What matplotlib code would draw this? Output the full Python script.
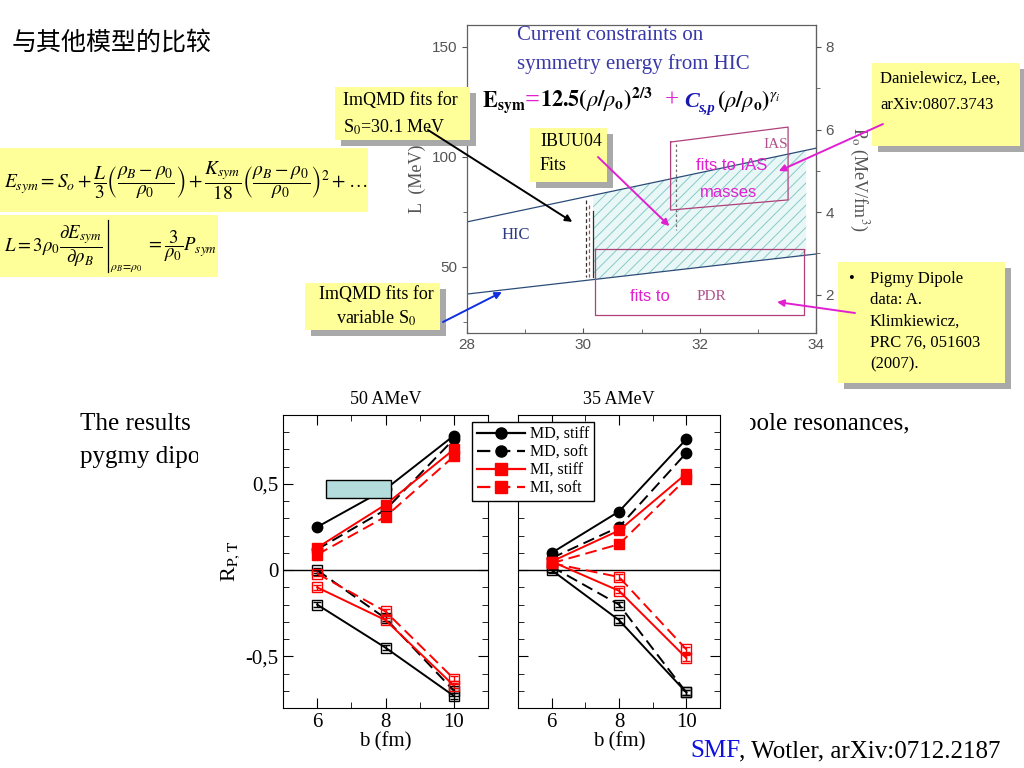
import matplotlib
matplotlib.use('Agg')
import matplotlib.pyplot as plt
from matplotlib.patches import Rectangle, ConnectionPatch
from matplotlib.lines import Line2D
from matplotlib.ticker import MultipleLocator, FuncFormatter

plt.rcParams['font.family'] = ['Liberation Serif', 'DejaVu Sans']
plt.rcParams['mathtext.fontset'] = 'stix'
plt.rcParams['hatch.linewidth'] = 0.7

W, H = 1024, 768

# ---- top panel: constraints on L vs S0
s0_edges = [28, 34]
hic_upper = [70.5, 104.0]
hic_lower = [37.7, 55.9]
ibuu_s0 = [30.17, 33.83]
ias_s0 = [31.5, 33.52, 33.52, 31.5, 31.5]
ias_L = [106.8, 113.6, 80.5, 75.9, 106.8]
pdr_s0 = [30.2, 33.8, 33.8, 30.2, 30.2]
pdr_L = [58.2, 58.2, 28.2, 28.2, 58.2]
rho0 = 0.16

# ---- bottom panels: R_P,T vs impact parameter
b = [6, 8, 10]
series_labels = ['MD, stiff', 'MD, soft', 'MI, stiff', 'MI, soft']
series_colors = ['black', 'black', 'red', 'red']
series_ls = ['-', '--', '-', '--']
series_mk = ['o', 'o', 's', 's']
err = 0.015

r50_proj = [[0.25, 0.47, 0.78],
            [0.12, 0.35, 0.76],
            [0.13, 0.38, 0.70],
            [0.09, 0.31, 0.66]]
r50_targ = [[-0.20, -0.45, -0.73],
            [0.00, -0.28, -0.70],
            [-0.10, -0.29, -0.67],
            [-0.02, -0.24, -0.63]]
r35_proj = [[0.10, 0.34, 0.76],
            [0.07, 0.25, 0.68],
            [0.05, 0.23, 0.56],
            [0.04, 0.15, 0.53]]
r35_targ = [[0.00, -0.29, -0.71],
            [0.02, -0.20, -0.71],
            [0.05, -0.12, -0.51],
            [0.04, -0.04, -0.46]]

YELLOW = '#ffff99'
MAG = '#e020d0'

fig = plt.figure(figsize=(W / 100, H / 100), dpi=100)


def ftext(x, y, s, **kw):
    return fig.text(x / W, 1 - y / H, s, **kw)


def box(x0, y0, x1, y1, shadow=6, z=6):
    if shadow:
        fig.patches.append(Rectangle(((x0 + shadow) / W, 1 - (y1 + shadow) / H),
                                     (x1 - x0) / W, (y1 - y0) / H,
                                     transform=fig.transFigure, fc='#a9a9a9',
                                     ec='none', zorder=z - 0.1))
    fig.patches.append(Rectangle((x0 / W, 1 - y1 / H), (x1 - x0) / W, (y1 - y0) / H,
                                 transform=fig.transFigure, fc=YELLOW, ec='none', zorder=z))


# ---------------- slide texts ----------------
ftext(12, 43, '与其他模型的比较', fontsize=18, va='center',
      family=['Noto Sans CJK SC', 'DejaVu Sans'])
ftext(80, 430, 'The results', fontsize=18, zorder=3)
ftext(80, 463, 'pygmy dipole', fontsize=18, zorder=3)
ftext(744, 430, 'pole resonances,', fontsize=18, zorder=3)
ftext(690, 757, 'SMF', fontsize=18, color='#1010e0', zorder=11)
ftext(739, 757, ', Wotler, arXiv:0712.2187', fontsize=18, zorder=11)

# white cover under the lower figure
fig.patches.append(Rectangle((198 / W, 1 - 765 / H), 552 / W, 382 / H,
                             transform=fig.transFigure, fc='white', ec='none', zorder=4))

# equation boxes
box(0, 148, 368, 212, shadow=0)
box(0, 215, 218, 277, shadow=0)
ftext(4, 181, r'$E_{sym}=S_o+\dfrac{L}{3}\left(\dfrac{\rho_B-\rho_0}{\rho_0}\right)'
      r'+\dfrac{K_{sym}}{18}\left(\dfrac{\rho_B-\rho_0}{\rho_0}\right)^2+\ldots$',
      fontsize=14, va='center', zorder=7)
ftext(4, 246, r'$L=3\rho_0\dfrac{\partial E_{sym}}{\partial\rho_B}$',
      fontsize=13.5, va='center', zorder=7)
fig.add_artist(Line2D([108 / W, 108 / W], [1 - 220 / H, 1 - 272 / H], color='black',
                      lw=0.9, zorder=7))
ftext(110, 268, r'$\rho_B\!=\!\rho_0$', fontsize=8.5, va='center', zorder=7)
ftext(146, 246, r'$=\dfrac{3}{\rho_0}P_{sym}$', fontsize=13.5, va='center', zorder=7)

# ---------------- top panel ----------------
ax = fig.add_axes([467 / W, 1 - 333 / H, 349 / W, 308 / H])
ax.set_xlim(28, 34)
ax.set_ylim(20, 160)
ax.plot(s0_edges, hic_upper, color='#2c4c78', lw=0.9)
ax.plot(s0_edges, hic_lower, color='#2c4c78', lw=0.9)
frac_u = [(s - s0_edges[0]) / (s0_edges[1] - s0_edges[0]) for s in ibuu_s0]
up_ib = [hic_upper[0] + f * (hic_upper[1] - hic_upper[0]) for f in frac_u]
lo_ib = [hic_lower[0] + f * (hic_lower[1] - hic_lower[0]) for f in frac_u]
ax.fill_between(ibuu_s0, lo_ib, up_ib, facecolor='#eaf7f7', edgecolor='#86caca',
                hatch='///', lw=0)
ax.plot([30.05, 30.05], [80.5, 45.5], color='#303030', ls='--', lw=0.9, dashes=(3, 2))
ax.plot([30.10, 30.10], [78, 45.5], color='#b05050', ls='--', lw=0.9, dashes=(3, 2))
ax.plot([30.17, 30.17], [75.6, 45.5], color='#303030', lw=0.9)
ax.plot([31.6, 31.6], [106, 66.8], color='#707070', ls='--', lw=0.9, dashes=(2, 2))
ax.plot(ias_s0, ias_L, color='#b0407a', lw=0.9)
ax.plot(pdr_s0, pdr_L, color='#b0407a', lw=0.9)
ax.text(28.6, 64.5, 'HIC', color='#2c3c80', fontsize=12, va='center')
ax.text(33.1, 105.5, 'IAS', color='#b0508a', fontsize=11, va='center')
ax.text(32.55, 96, 'fits to IAS', color=MAG, fontsize=12, va='center', ha='center',
        family='Liberation Sans')
ax.text(32.5, 84, 'masses', color=MAG, fontsize=12, va='center', ha='center',
        family='Liberation Sans')
ax.text(31.15, 36.4, 'fits to', color=MAG, fontsize=12, va='center', ha='center',
        family='Liberation Sans')
ax.text(32.2, 36.4, 'PDR', color='#b0508a', fontsize=11, va='center', ha='center')

ax.xaxis.set_major_locator(MultipleLocator(2))
ax.xaxis.set_minor_locator(MultipleLocator(1))
ax.yaxis.set_major_locator(MultipleLocator(50))
ax.yaxis.set_minor_locator(MultipleLocator(25))
ax.tick_params(axis='x', which='both', direction='in', labelsize=11, labelcolor='#555555',
               color='#555555', labelfontfamily='Liberation Sans')
ax.tick_params(axis='y', which='both', direction='out', labelsize=11, labelcolor='#555555',
               color='#555555', labelfontfamily='Liberation Sans')
ax.tick_params(which='minor', length=3)
for sp in ax.spines.values():
    sp.set_color('#606060')
    sp.set_linewidth(0.9)
ax.set_ylabel('L  (MeV)', fontsize=13, color='#555555', labelpad=4)

sec = ax.secondary_yaxis('right', functions=(lambda L: L * rho0 / 3, lambda P: P * 3 / rho0))
sec.yaxis.set_major_locator(MultipleLocator(2))
sec.yaxis.set_minor_locator(MultipleLocator(1))
sec.tick_params(which='both', direction='out', labelsize=11, labelcolor='#555555',
                color='#555555', labelfontfamily='Liberation Sans')
sec.tick_params(which='minor', length=3)
sec.spines['right'].set_color('#606060')
sec.set_ylabel(r'P$_{\rm o}$ (MeV/fm$^3$)', fontsize=13, color='#555555', rotation=270,
               labelpad=26)

ftext(517, 40, 'Current constraints on', fontsize=15, color='#3838a8')
ftext(517, 69, 'symmetry energy from HIC', fontsize=15, color='#3838a8')

# formula with coloured pieces
fy = 107
ftext(482, fy, r'$\mathbf{E}_{\mathbf{sym}}$', fontsize=16, va='baseline')
ftext(525, fy, '=', fontsize=19, color=MAG, va='baseline', fontweight='bold')
ftext(540, fy, r'$\mathbf{12.5(}\rho\mathbf{/}\rho_{\mathbf{o}}\mathbf{)}^{\mathbf{2/3}}$',
      fontsize=16, va='baseline')
ftext(665, fy, '+', fontsize=18, color=MAG, va='baseline')
ftext(684, fy, 'C', fontsize=16, color='#1818b0', va='baseline', fontweight='bold',
      fontstyle='italic')
ftext(698, fy + 5, 's,p', fontsize=10.5, color='#1818b0', va='baseline', fontweight='bold',
      fontstyle='italic')
ftext(717, fy, r'$\mathbf{(}\rho\mathbf{/}\rho_{\mathbf{o}}\mathbf{)}^{\gamma_i}$',
      fontsize=16, va='baseline')

# callouts
box(335, 87, 470, 140)
ftext(343, 101, 'ImQMD fits for', fontsize=13, va='center', zorder=7)
ftext(343, 127, r'S$_0$=30.1 MeV', fontsize=13, va='center', zorder=7)
box(530, 128, 607, 182)
ftext(540, 141, 'IBUU04', fontsize=13, va='center', zorder=7)
ftext(540, 166, 'Fits', fontsize=13, va='center', zorder=7)
box(305, 283, 440, 330)
ftext(376, 295, 'ImQMD fits for', fontsize=13, va='center', ha='center', zorder=7)
ftext(376, 318, r'variable S$_0$', fontsize=13, va='center', ha='center', zorder=7)
box(872, 63, 1020, 146)
ftext(880, 79, 'Danielewicz, Lee,', fontsize=12, va='center', zorder=7)
ftext(880, 105, 'arXiv:0807.3743', fontsize=12, va='center', zorder=7)
box(838, 262, 1005, 383)
ftext(848, 279, '•', fontsize=12, va='center', zorder=7)
for i, line in enumerate(['Pigmy Dipole', 'data: A.', 'Klimkiewicz,', 'PRC 76, 051603',
                          '(2007).']):
    ftext(870, 279 + i * 21.3, line, fontsize=12, va='center', zorder=7)

# arrows from callouts into the top panel
arrow_specs = [((428, 130), (29.81, 70.5), 'black'),
               ((598, 157), (31.48, 68.6), MAG),
               ((443, 322), (28.6, 38.6), '#1030e0'),
               ((883, 124), (33.36, 93.6), MAG),
               ((855, 313), (33.33, 34.1), MAG)]
for (px, py), xy, col in arrow_specs:
    con = ConnectionPatch(xyA=(px / W, 1 - py / H), coordsA='figure fraction',
                          xyB=xy, coordsB=ax.transData, arrowstyle='-|>', color=col,
                          lw=1.4, mutation_scale=10, shrinkA=0, shrinkB=0, zorder=8)
    fig.add_artist(con)

# ---------------- bottom panels ----------------
ax1 = fig.add_axes([283 / W, 1 - 708 / H, 205 / W, 293 / H], zorder=5)
ax2 = fig.add_axes([518 / W, 1 - 708 / H, 202 / W, 293 / H], zorder=5)


def panel(a, proj, targ, title):
    for i in range(4):
        col = series_colors[i]
        kw = dict(color=col, lw=1.4, capsize=3, elinewidth=1, ms=7.5)
        dash = (6, 3) if series_ls[i] == '--' else None
        l1 = a.errorbar(b, proj[i], yerr=err, marker=series_mk[i], mfc=col, mec=col, **kw)
        l2 = a.errorbar(b, targ[i], yerr=err, marker='s', mfc='none', mec=col, **kw)
        if dash:
            l1[0].set_dashes(dash)
            l2[0].set_dashes(dash)
    a.axhline(0, color='black', lw=1)
    a.set_xlim(5, 11)
    a.set_ylim(-0.8, 0.9)
    a.xaxis.set_major_locator(MultipleLocator(2))
    a.xaxis.set_minor_locator(MultipleLocator(1))
    a.yaxis.set_major_locator(MultipleLocator(0.5))
    a.yaxis.set_minor_locator(MultipleLocator(0.1))
    a.tick_params(which='both', direction='in', top=True, right=True, labelsize=15)
    a.tick_params(which='major', length=7)
    a.tick_params(which='minor', length=4)
    a.set_xlabel('b (fm)', fontsize=15, labelpad=0)
    a.set_title(title, fontsize=13, pad=8)


panel(ax1, r50_proj, r50_targ, '50 AMeV')
panel(ax2, r35_proj, r35_targ, '35 AMeV')
ax1.yaxis.set_major_formatter(FuncFormatter(
    lambda v, p: '0' if abs(v) < 1e-9 else ('%g' % v).replace('.', ',')))
ax2.set_yticklabels([])
ax1.set_ylabel(r'R$_{\mathrm{P,T}}$', fontsize=16, labelpad=2)
ax1.add_patch(Rectangle((6.27, 0.42), 1.9, 0.10, fc='#b4dcdc', ec='black', lw=1, zorder=6))

handles = [Line2D([0], [0], color=series_colors[i], marker=series_mk[i], ms=8, lw=1.6,
                  dashes=(6, 3) if series_ls[i] == '--' else (None, None))
           for i in range(4)]
leg = fig.legend(handles, series_labels, loc='upper left',
                 bbox_to_anchor=(472 / W, 1 - 422 / H), fontsize=11.5, frameon=True,
                 fancybox=False, edgecolor='black', framealpha=1, borderaxespad=0,
                 handlelength=3.0, labelspacing=0.12, borderpad=0.3, handletextpad=0.3)
leg.set_zorder(10)
leg.get_frame().set_linewidth(1)

fig.savefig('out.png', dpi=100)
